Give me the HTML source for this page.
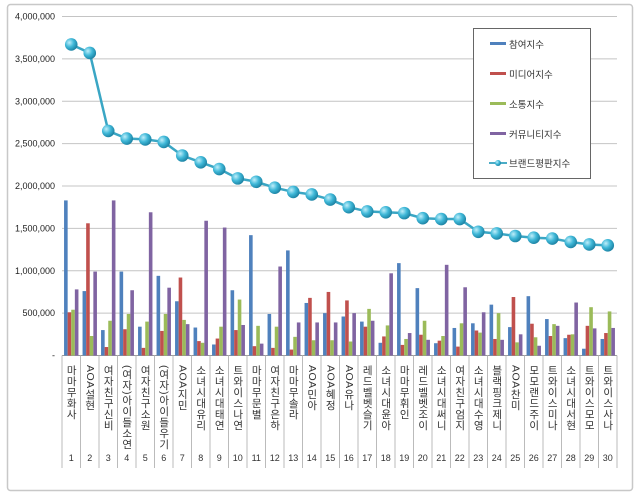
<!DOCTYPE html>
<html><head><meta charset="utf-8"><style>
html,body{margin:0;padding:0;background:#fff;}
svg{display:block;font-family:"Liberation Sans","Noto Sans CJK KR",sans-serif;}
</style></head><body>
<svg width="640" height="498" viewBox="0 0 640 498" xmlns="http://www.w3.org/2000/svg">
<defs>
<radialGradient id="ball" cx="0.35" cy="0.35" r="0.7">
<stop offset="0" stop-color="#bfeefa"/><stop offset="0.5" stop-color="#3fb8d8"/><stop offset="1" stop-color="#1a7fa0"/>
</radialGradient>
</defs>
<rect x="7.5" y="4.5" width="625" height="486" fill="#fff" stroke="#c8c8c8" stroke-width="1.5" rx="3"/>
<g id="grid" stroke="#c4c4c4" stroke-width="1"></g>
<g id="ylab" font-size="9" fill="#222" text-anchor="end"></g>
<g id="bars"></g>
<g id="cats"></g>
<g id="line"></g>
<rect x="473.5" y="28.5" width="117" height="150" fill="#fff" stroke="#666" stroke-width="1"/>
<g font-size="9.5" fill="#333">
<rect x="490" y="42" width="16" height="3" fill="#4F81BD"/><text x="509" y="48">참여지수</text>
<rect x="490" y="72" width="16" height="3" fill="#C0504D"/><text x="509" y="78">미디어지수</text>
<rect x="490" y="102" width="16" height="3" fill="#9BBB59"/><text x="509" y="108">소통지수</text>
<rect x="490" y="132" width="16" height="3" fill="#8064A2"/><text x="509" y="138">커뮤니티지수</text>
<line x1="489" y1="163" x2="507" y2="163" stroke="#4BACC6" stroke-width="2"/><circle cx="498" cy="163" r="3" fill="url(#ball)"/><text x="509" y="167">브랜드평판지수</text>
</g>
<script>
const ns="http://www.w3.org/2000/svg";
function el(p,t,a,txt){const e=document.createElementNS(ns,t);for(const k in a)e.setAttribute(k,a[k]);if(txt!==undefined)e.textContent=txt;document.getElementById(p).appendChild(e);return e;}
const X0=62,X1=617,Y0=355.5,PX=169.5/2000000,W=(X1-X0)/30;
const y=v=>Y0-v*PX;
const ylabels=["-","500,000","1,000,000","1,500,000","2,000,000","2,500,000","3,000,000","3,500,000","4,000,000"];
for(let i=0;i<=8;i++){const yy=y(i*500000);
 if(i>0)el("grid","line",{x1:X0,x2:X1,y1:yy,y2:yy});
 el("ylab","text",{x:55,y:yy+3},ylabels[i]);}
el("grid","line",{x1:X0,x2:X1,y1:Y0,y2:Y0,stroke:"#999"});
const B=[[1830,510,540,780],[760,1560,230,990],[300,100,410,1830],[990,310,490,770],[340,90,400,1690],[940,290,490,800],[640,920,420,370],[330,170,150,1590],[130,200,340,1510],[770,300,660,360],[1420,110,350,140],[490,90,340,1050],[1240,70,220,390],[620,680,180,390],[500,750,180,390],[460,650,165,500],[400,340,550,410],[150,225,355,970],[1090,125,195,265],[795,245,410,185],[145,175,230,1070],[325,105,380,805],[380,295,270,510],[600,195,500,185],[335,690,155,250],[700,375,215,115],[430,230,370,350],[205,245,250,625],[80,350,570,320],[195,265,520,325]];
const C=["#4F81BD","#C0504D","#9BBB59","#8064A2"];
const names=["마마무화사","AOA설현","여자친구신비","(여자)아이들소연","여자친구소원","(여자)아이들우기","AOA지민","소녀시대유리","소녀시대태연","트와이스나연","마마무문별","여자친구은하","마마무솔라","AOA민아","AOA혜정","AOA유나","레드벨벳슬기","소녀시대윤아","마마무휘인","레드벨벳조이","소녀시대써니","여자친구엄지","소녀시대수영","블랙핑크제니","AOA찬미","모모랜드주이","트와이스미나","소녀시대서현","트와이스모모","트와이스사나"];
const L=[3670,3570,2650,2560,2550,2520,2360,2280,2200,2090,2050,1980,1930,1900,1840,1750,1700,1690,1680,1620,1610,1610,1460,1440,1410,1390,1380,1340,1310,1300];
const bw=3.6;
for(let i=0;i<30;i++){const cx=X0+W*(i+0.5);
 for(let j=0;j<4;j++){const v=B[i][j]*1000;const x=cx-2*bw+j*bw;
  el("bars","rect",{x:x,y:y(v),width:bw,height:Y0-y(v),fill:C[j]});}
 el("cats","line",{x1:X0+W*i,x2:X0+W*i,y1:Y0,y2:468,stroke:"#bbb"});
 el("cats","text",{x:cx,y:365,"font-size":"10.5",fill:"#333",style:"writing-mode:vertical-rl;text-orientation:mixed;letter-spacing:0.5px"},names[i]);
 el("cats","text",{x:cx,y:461,"font-size":"9",fill:"#333","text-anchor":"middle"},String(i+1));
}
el("cats","line",{x1:X1,x2:X1,y1:Y0,y2:468,stroke:"#bbb"});
let d="";for(let i=0;i<30;i++){d+=(i?"L":"M")+(X0+W*(i+0.5))+" "+y(L[i]*1000);}
el("line","path",{d:d,fill:"none",stroke:"#3aa6c4","stroke-width":"2.5"});
for(let i=0;i<30;i++)el("line","circle",{cx:X0+W*(i+0.5),cy:y(L[i]*1000),r:6.3,fill:"url(#ball)"});
</script>
</svg>
</body></html>
